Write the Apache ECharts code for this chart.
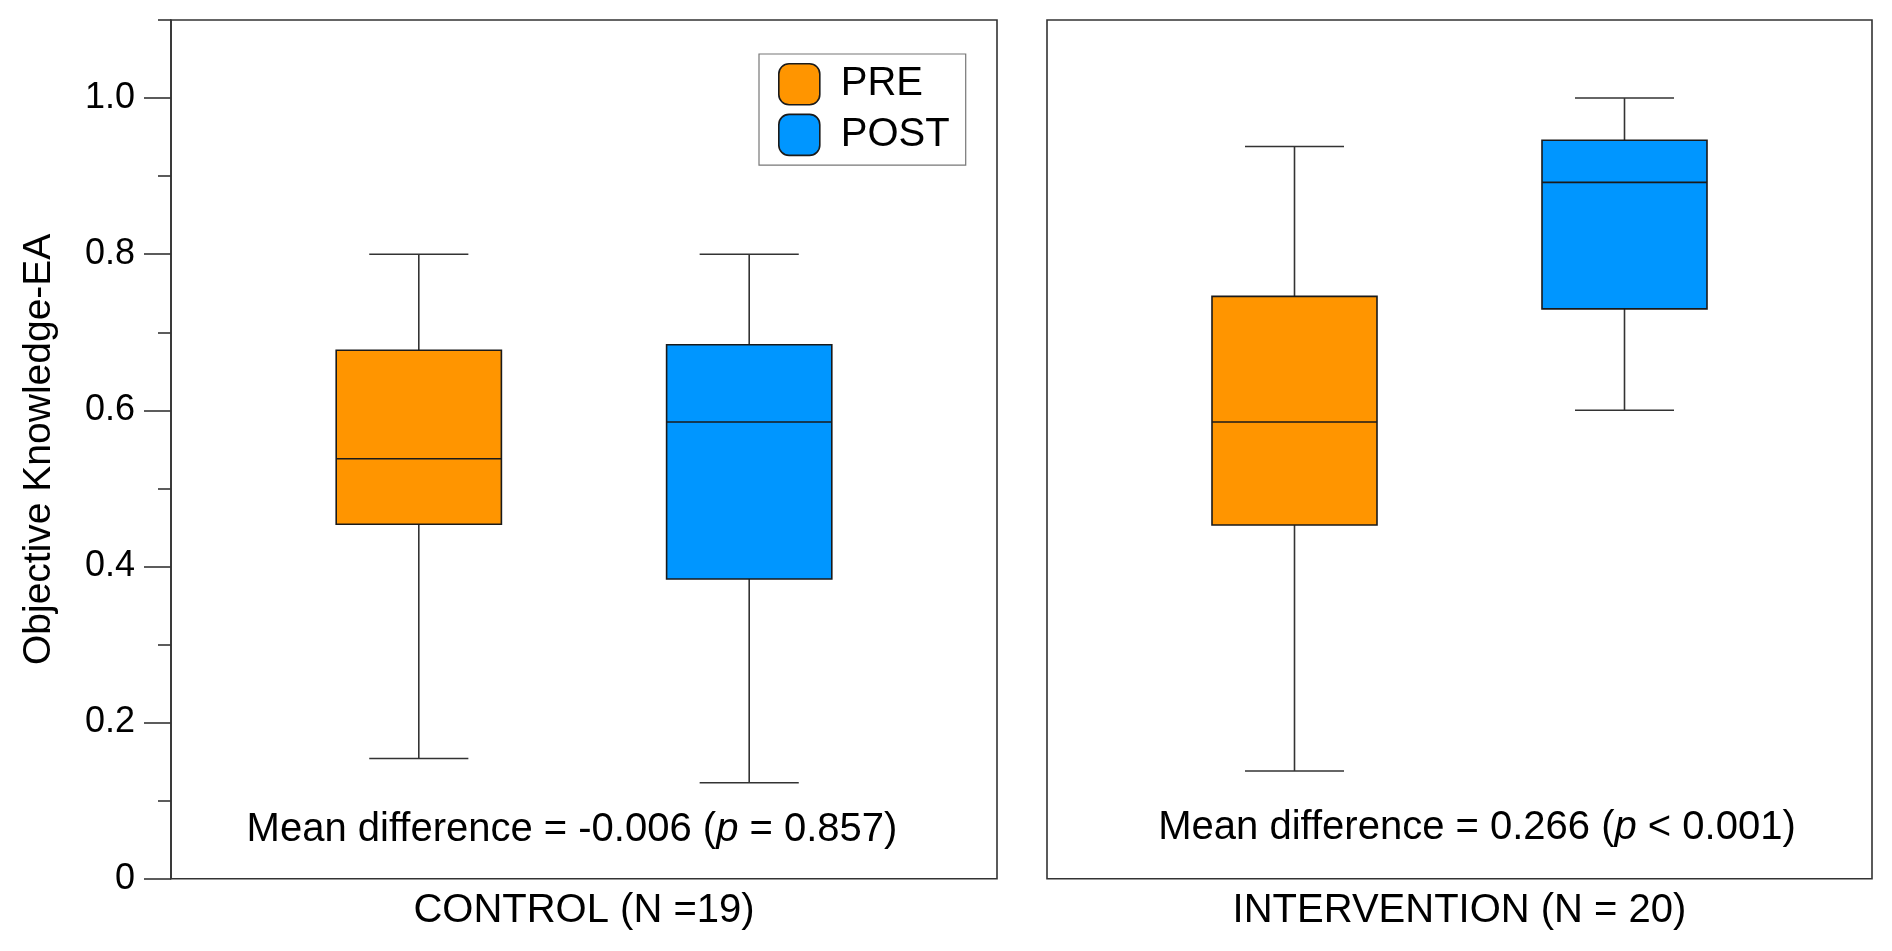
<!DOCTYPE html>
<html><head><meta charset="utf-8">
<script src="https://cdn.jsdelivr.net/npm/echarts@6/dist/echarts.min.js"></script>
<style>html,body{margin:0;padding:0;background:#fff}#c{width:1892px;height:951px}</style>
</head><body><div id="c"></div>
<script>
// ---- data ----
const groups = ['PRE', 'POST'];
const groupColors = ['#FF9500', '#0096FF'];
const panelTitles = ['CONTROL (N =19)', 'INTERVENTION (N = 20)'];
// [min, Q1, median, Q3, max]
const controlPre = [0.154, 0.454, 0.538, 0.677, 0.800];
const controlPost = [0.123, 0.384, 0.585, 0.684, 0.800];
const interventionPre = [0.138, 0.453, 0.585, 0.746, 0.938];
const interventionPost = [0.600, 0.730, 0.892, 0.946, 1.000];
const meanDiffLeft = ['Mean difference = -0.006 (', 'p', ' = 0.857)'];
const meanDiffRight = ['Mean difference = 0.266 (', 'p', ' < 0.001)'];
const yMajorTicks = [0, 0.2, 0.4, 0.6, 0.8, 1.0];
const yMinorTicks = [0.1, 0.3, 0.5, 0.7, 0.9, 1.1];
const yName = 'Objective Knowledge-EA';

const FONT = '"Liberation Sans", Arial, Helvetica, sans-serif';
const BOX_W = 0.5, CAP_W = 0.3;

function renderBox(params, api) {
  const x = api.value(0);
  const v = [1, 2, 3, 4, 5].map(i => api.value(i));
  const p = v.map(val => api.coord([x, val]));
  const cx = p[0][0];
  const hb = api.size([BOX_W, 0])[0] / 2;
  const hc = api.size([CAP_W, 0])[0] / 2;
  const color = api.visual('color');
  const ls = { stroke: '#333', lineWidth: 1.6 };
  return { type: 'group', children: [
    { type: 'line', shape: { x1: cx, y1: p[4][1], x2: cx, y2: p[3][1] }, style: ls },
    { type: 'line', shape: { x1: cx, y1: p[1][1], x2: cx, y2: p[0][1] }, style: ls },
    { type: 'line', shape: { x1: cx - hc, y1: p[4][1], x2: cx + hc, y2: p[4][1] }, style: ls },
    { type: 'line', shape: { x1: cx - hc, y1: p[0][1], x2: cx + hc, y2: p[0][1] }, style: ls },
    { type: 'rect', shape: { x: cx - hb, y: p[3][1], width: 2 * hb, height: p[1][1] - p[3][1] },
      style: { fill: color, stroke: '#1a1a1a', lineWidth: 1.6 } },
    { type: 'line', shape: { x1: cx - hb, y1: p[2][1], x2: cx + hb, y2: p[2][1] },
      style: { stroke: '#1a1a1a', lineWidth: 1.6 } }
  ]};
}

function boxSeries(name, color, gi, pos, vals) {
  return {
    name: name, type: 'custom', xAxisIndex: gi, yAxisIndex: gi === 0 ? 0 : 2,
    itemStyle: { color: color },
    encode: { x: 0, y: [1, 2, 3, 4, 5] },
    data: [[pos].concat(vals)],
    renderItem: renderBox,
    silent: true
  };
}

const chart = echarts.init(document.getElementById('c'), null, { renderer: 'canvas' });
const frame = { show: true, borderColor: '#333', borderWidth: 1.6, backgroundColor: 'transparent' };

function xAxisFor(gi) {
  return {
    type: 'value', gridIndex: gi, min: 0.25, max: 2.75,
    axisLine: { show: false }, axisTick: { show: false }, axisLabel: { show: false },
    splitLine: { show: false },
    name: panelTitles[gi], nameLocation: 'middle', nameGap: 12,
    nameTextStyle: { fontSize: 40, fontFamily: FONT, color: '#000' }
  };
}

function richText(parts) {
  return '{n|' + parts[0] + '}{i|' + parts[1] + '}{n|' + parts[2] + '}';
}
const richStyle = {
  n: { fontSize: 40, fontFamily: FONT, fill: '#000', color: '#000' },
  i: { fontSize: 40, fontFamily: FONT, fontStyle: 'italic', fill: '#000', color: '#000' }
};

chart.setOption({
  animation: false,
  backgroundColor: '#fff',
  grid: [
    Object.assign({ left: 171, top: 20, width: 826, height: 858.7 }, frame),
    Object.assign({ left: 1047, top: 20, width: 825, height: 858.7 }, frame)
  ],
  xAxis: [xAxisFor(0), xAxisFor(1)],
  yAxis: [
    {
      type: 'value', gridIndex: 0, position: 'left', min: 0, max: 1.1, interval: 0.2,
      axisLine: { show: true, lineStyle: { color: '#333', width: 1.6 } },
      axisTick: { show: true, inside: false, length: 27, customValues: yMajorTicks,
                  lineStyle: { color: '#333', width: 1.6 } },
      axisLabel: { show: true, customValues: yMajorTicks, margin: 36, fontSize: 36,
                   fontFamily: FONT, color: '#000',
                   formatter: v => (v === 0 ? '0' : v.toFixed(1)) },
      splitLine: { show: false },
      name: yName, nameLocation: 'middle', nameGap: 112,
      nameTextStyle: { fontSize: 39, fontFamily: FONT, color: '#000' }
    },
    {
      type: 'value', gridIndex: 0, position: 'left', offset: 0, min: 0, max: 1.1, interval: 0.1,
      axisLine: { show: false },
      axisTick: { show: true, inside: false, length: 13, customValues: yMinorTicks,
                  lineStyle: { color: '#333', width: 1.6 } },
      axisLabel: { show: false }, splitLine: { show: false }
    },
    {
      type: 'value', gridIndex: 1, min: 0, max: 1.1,
      axisLine: { show: false }, axisTick: { show: false }, axisLabel: { show: false },
      splitLine: { show: false }
    }
  ],
  legend: {
    data: groups,
    orient: 'vertical', left: 759, top: 54,
    padding: [9, 16, 9, 19], itemGap: 8, itemWidth: 41, itemHeight: 41,
    icon: 'roundRect',
    borderColor: '#777', borderWidth: 1.2, backgroundColor: '#fff',
    itemStyle: { borderColor: '#1a1a1a', borderWidth: 1.6 },
    textStyle: { fontSize: 40, fontFamily: FONT, color: '#000', padding: [0, 0, 0, 16] },
    selectedMode: false
  },
  series: [
    boxSeries(groups[0], groupColors[0], 0, 1, controlPre),
    boxSeries(groups[1], groupColors[1], 0, 2, controlPost),
    boxSeries(groups[0], groupColors[0], 1, 1, interventionPre),
    boxSeries(groups[1], groupColors[1], 1, 2, interventionPost)
  ],
  graphic: [
    { type: 'text', x: 572, y: 830, silent: true,
      style: { text: richText(meanDiffLeft), rich: richStyle, fontSize: 40, fontFamily: FONT,
               fill: '#000', align: 'center', verticalAlign: 'middle',
               textAlign: 'center', textVerticalAlign: 'middle' } },
    { type: 'text', x: 1477, y: 828, silent: true,
      style: { text: richText(meanDiffRight), rich: richStyle, fontSize: 40, fontFamily: FONT,
               fill: '#000', align: 'center', verticalAlign: 'middle',
               textAlign: 'center', textVerticalAlign: 'middle' } }
  ]
});
</script></body></html>
